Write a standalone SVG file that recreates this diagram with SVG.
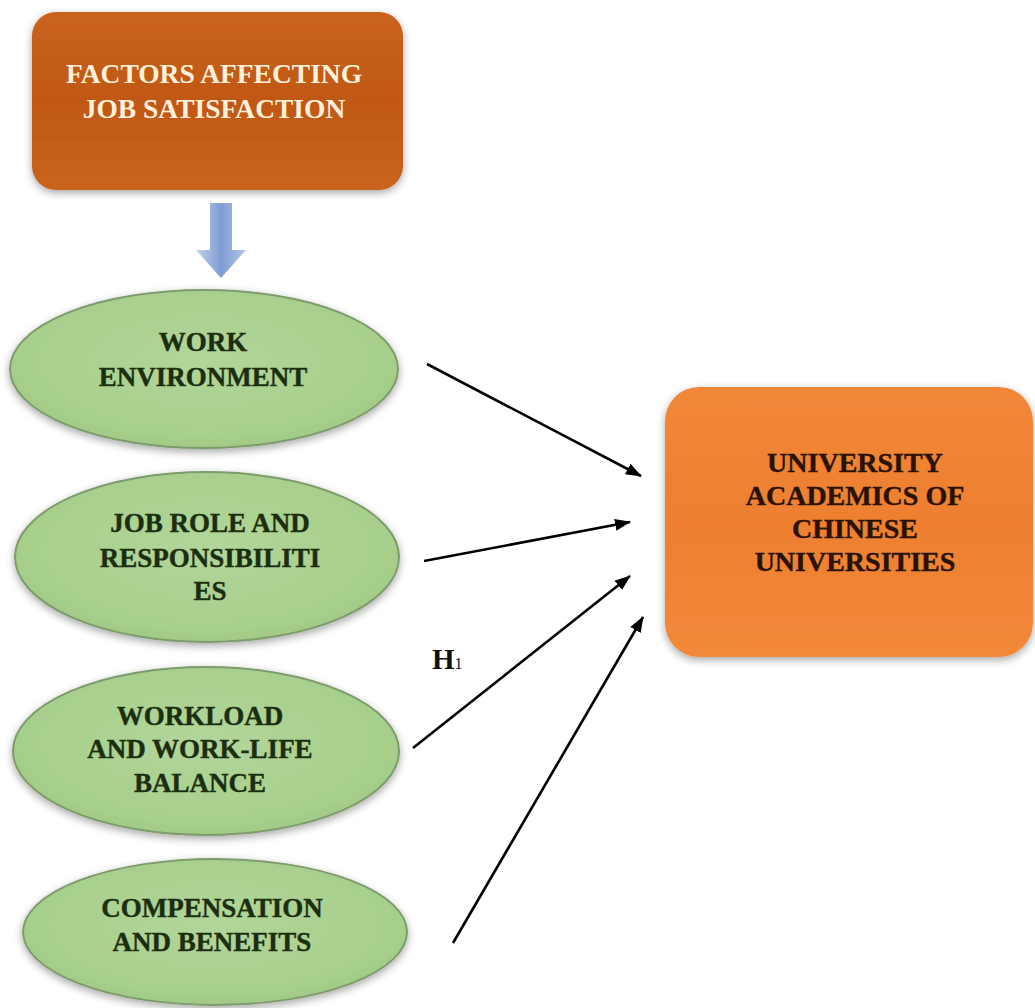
<svg xmlns="http://www.w3.org/2000/svg" width="1035" height="1008" viewBox="0 0 1035 1008">
  <defs>
    <linearGradient id="gTop" x1="0" y1="0" x2="0" y2="1">
      <stop offset="0" stop-color="#C9631F"/>
      <stop offset="0.5" stop-color="#C05815"/>
      <stop offset="1" stop-color="#C8641F"/>
    </linearGradient>
    <linearGradient id="gRight" x1="0" y1="0" x2="0" y2="1">
      <stop offset="0" stop-color="#F18838"/>
      <stop offset="0.5" stop-color="#EE7F2F"/>
      <stop offset="1" stop-color="#F2893A"/>
    </linearGradient>
    <radialGradient id="gEll" cx="0.5" cy="0.45" r="0.6">
      <stop offset="0" stop-color="#B2D69A"/>
      <stop offset="0.8" stop-color="#A7CF8C"/>
      <stop offset="1" stop-color="#9CC680"/>
    </radialGradient>
    <linearGradient id="gBlue" x1="0" y1="0" x2="1" y2="0">
      <stop offset="0" stop-color="#C3D2EE"/>
      <stop offset="0.5" stop-color="#7F9CD3"/>
      <stop offset="1" stop-color="#B7C8E8"/>
    </linearGradient>
    <filter id="shadow" x="-10%" y="-10%" width="120%" height="125%">
      <feGaussianBlur in="SourceAlpha" stdDeviation="4"/>
      <feOffset dx="0" dy="3" result="b"/>
      <feComponentTransfer><feFuncA type="linear" slope="0.35"/></feComponentTransfer>
      <feMerge><feMergeNode/><feMergeNode in="SourceGraphic"/></feMerge>
    </filter>
    <marker id="ah" viewBox="0 0 16 12" refX="15" refY="6" markerWidth="16" markerHeight="12" markerUnits="userSpaceOnUse" orient="auto">
      <path d="M0,0 L16,6 L0,12 z" fill="#000"/>
    </marker>
  </defs>
  <style>
    .t { font-family: "Liberation Serif", "Times New Roman", serif; font-weight: bold; text-anchor: middle; }
    .et { font-size: 27px; fill: #1C2E10; stroke: #1C2E10; stroke-width: 0.4; }
    .tt { font-size: 27.5px; fill: #FFF1DC; }
    .rt { font-size: 28px; fill: #2A1200; stroke: #2A1200; stroke-width: 0.4; }
    .ell { fill: url(#gEll); stroke: #7E9B6C; stroke-width: 2; }
    .conn { stroke: #000; stroke-width: 2.6; fill: none; marker-end: url(#ah); }
  </style>
  <rect width="1035" height="1008" fill="#FFFFFF"/>

  <g id="node-factors">
    <rect x="32" y="12" width="371" height="178" rx="24" ry="24" fill="url(#gTop)" filter="url(#shadow)"/>
    <text class="t tt" x="214" y="83">FACTORS AFFECTING</text>
    <text class="t tt" x="214" y="118">JOB SATISFACTION</text>
  </g>

  <g id="block-arrow">
    <path d="M210,203 L232,203 L232,250 L246,250 L221,278 L196,250 L210,250 Z" fill="url(#gBlue)"/>
  </g>

  <g id="node-work-environment">
    <ellipse class="ell" cx="204" cy="369" rx="194" ry="79" filter="url(#shadow)"/>
    <text class="t et" x="203" y="351">WORK</text>
    <text class="t et" x="203" y="386">ENVIRONMENT</text>
  </g>

  <g id="node-job-role">
    <ellipse class="ell" cx="207" cy="557" rx="192" ry="85" filter="url(#shadow)"/>
    <text class="t et" x="210" y="532">JOB ROLE AND</text>
    <text class="t et" x="210" y="567">RESPONSIBILITI</text>
    <text class="t et" x="210" y="600">ES</text>
  </g>

  <g id="node-workload">
    <ellipse class="ell" cx="206" cy="751" rx="193" ry="84" filter="url(#shadow)"/>
    <text class="t et" x="200" y="725">WORKLOAD</text>
    <text class="t et" x="200" y="758">AND WORK-LIFE</text>
    <text class="t et" x="200" y="792">BALANCE</text>
  </g>

  <g id="node-compensation">
    <ellipse class="ell" cx="215" cy="932" rx="192" ry="73" filter="url(#shadow)"/>
    <text class="t et" x="212" y="917">COMPENSATION</text>
    <text class="t et" x="212" y="951">AND BENEFITS</text>
  </g>

  <g id="node-university">
    <rect x="665" y="387" width="368" height="270" rx="34" ry="34" fill="url(#gRight)" filter="url(#shadow)"/>
    <text class="t rt" x="855" y="472">UNIVERSITY</text>
    <text class="t rt" x="855" y="505">ACADEMICS OF</text>
    <text class="t rt" x="855" y="538">CHINESE</text>
    <text class="t rt" x="855" y="571">UNIVERSITIES</text>
  </g>

  <g id="connectors">
    <line class="conn" x1="427" y1="364" x2="641" y2="476"/>
    <line class="conn" x1="424" y1="561" x2="630" y2="522"/>
    <line class="conn" x1="413" y1="748" x2="630" y2="576"/>
    <line class="conn" x1="453" y1="943" x2="643" y2="617"/>
  </g>

  <g id="label-h1">
    <text x="432" y="669" font-family="Liberation Serif, 'Times New Roman', serif" font-weight="bold" font-size="29" fill="#111">H<tspan font-size="16" font-weight="normal">1</tspan></text>
  </g>
</svg>
